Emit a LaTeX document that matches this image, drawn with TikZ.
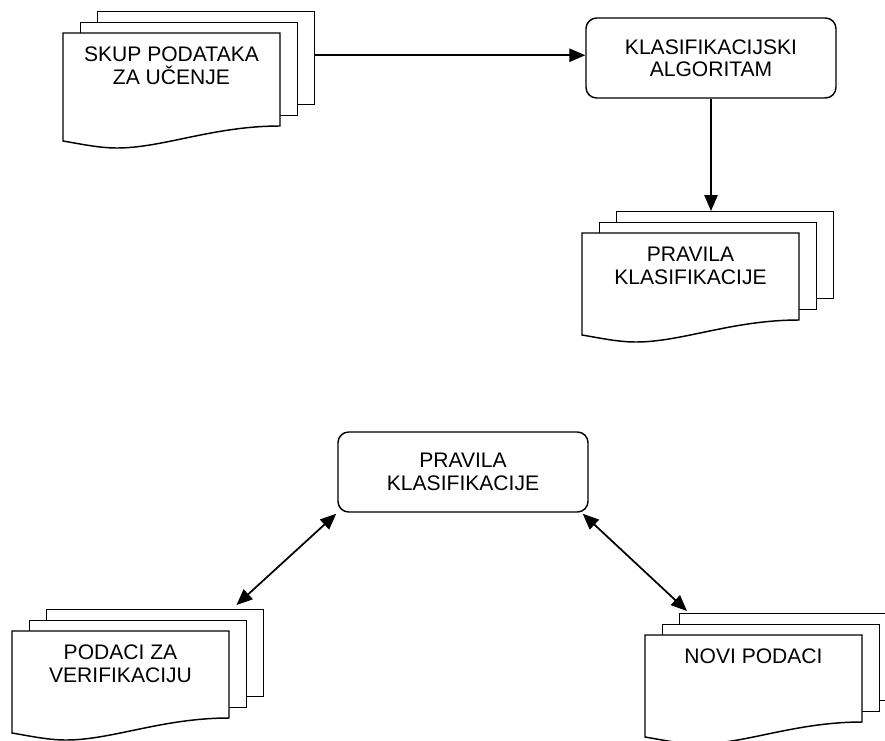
\documentclass[tikz,border=0pt]{standalone}
\usepackage{fontspec}
\setmainfont{Liberation Sans}
\usetikzlibrary{arrows.meta, calc}

\begin{document}
\begin{tikzpicture}[
  x=0.75pt, y=-0.75pt,
  >={Triangle[length=12pt, width=10pt]},
  every node/.style={font=\fontsize{15.8}{16.8}\selectfont}
]
\tikzset{
  page/.style   ={draw=black, fill=white, line width=1.1pt},
  sheet/.style  ={page, anchor=north west, inner sep=0pt,
                  minimum width=162.75pt},
  doctext/.style={anchor=north, align=center, inner sep=0pt},
  box/.style    ={draw=black, line width=1.1pt, rounded corners=8pt,
                  align=center, minimum width=187.5pt,
                  minimum height=60pt},
  arr/.style    ={->, line width=1.3pt},
  darr/.style   ={<->, line width=1.3pt},
  pics/multidoc/.style args={#1/#2}{code={
    \node[sheet, minimum height=#2*0.75pt] (-back) at (34,-22) {};
    \node[sheet, minimum height=#2*0.75pt] (-mid)  at (17,-11) {};
    \draw[page] (0,0) -- (217,0) -- (217,#2)
      .. controls (150,#2) and (100,#2+22) .. (54,#2+22)
      .. controls (36,#2+22) and (18,#2+18) .. (0,#2+15) -- cycle;
    \node[doctext] (-text) at (108.5,14) {#1};
  }}
}
\useasboundingbox (0,0) rectangle (885,740);
\clip (0,0) rectangle (885,740);

%% ----- Learning: data set -> algorithm -> rules -----
\pic (learn) at (63,33) {multidoc={SKUP PODATAKA\\ZA UČENJE/93}};
\node[box] (algo) at (711,58) {KLASIFIKACIJSKI\\ALGORITAM};
\pic (rules) at (582,233) {multidoc={PRAVILA\\KLASIFIKACIJE/87}};

\coordinate (lo) at ($(learn-back.east)+(0,-3)$);
\draw[arr] (lo) -- (lo -| algo.west);
\draw[arr] (algo.south) -- (algo.south |- rules-back.north);

%% ----- Use: rules <-> verification / new data -----
\node[box] (rulebox) at (463,472) {PRAVILA\\KLASIFIKACIJE};
\pic (verif) at (12,631) {multidoc={PODACI ZA\\VERIFIKACIJU/87}};
\pic (new) at (645,635) {multidoc={NOVI PODACI/87}};

\draw[darr] ($(rulebox.south west)+(-1,1)$)
  -- ($(verif-back.north east)+(-28,-4)$);
\draw[darr] ($(rulebox.south east)+(-6,1)$)
  -- ($(new-back.north west)+(8,-2)$);

\end{tikzpicture}
\end{document}
